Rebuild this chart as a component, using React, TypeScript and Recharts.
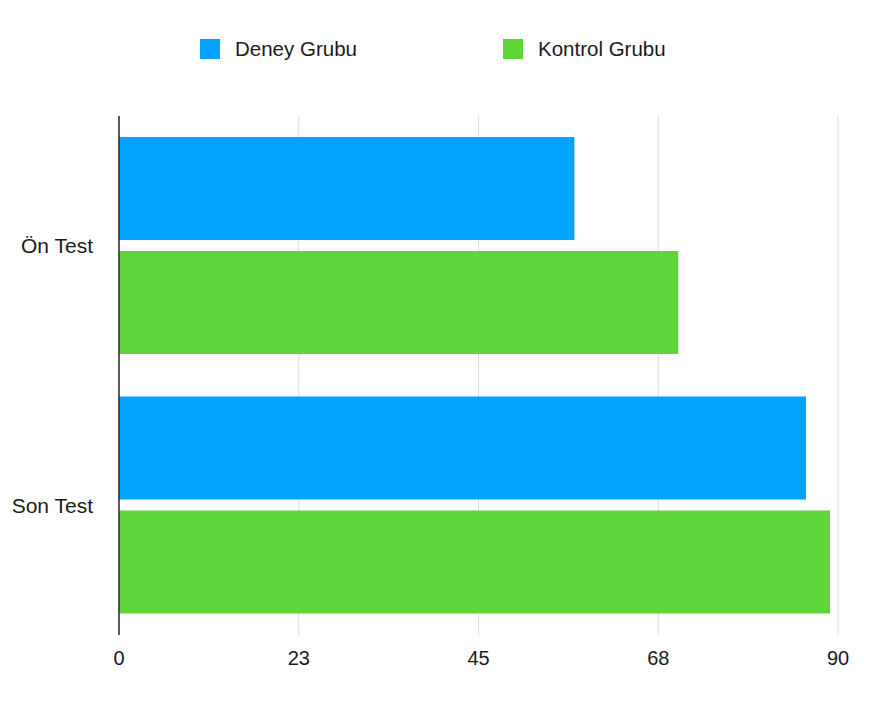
import React from "react";
import { BarChart, Bar, XAxis, YAxis, CartesianGrid, Legend } from "recharts";

const categories = ["Ön Test", "Son Test"];
const deneyValues = [57, 86];
const kontrolValues = [70, 89];
const xTicks = [0, 22.5, 45, 67.5, 90];
const xTickLabels = ["0", "23", "45", "68", "90"];
const seriesNames = ["Deney Grubu", "Kontrol Grubu"];
const seriesColors = ["#02A2FD", "#5ED63B"];

const data = categories.map((name, i) => ({
  name,
  deney: deneyValues[i],
  kontrol: kontrolValues[i],
}));

const FONT = "'Liberation Sans', Arial, Helvetica, sans-serif";

const legendLefts = [200, 503];

const CustomLegend = () => (
  <div style={{ position: "relative", width: 881, height: 60 }}>
    {seriesNames.map((n, i) => (
      <div
        key={n}
        style={{
          position: "absolute",
          left: legendLefts[i],
          top: 39,
          display: "flex",
          alignItems: "center",
          height: 20,
          fontFamily: FONT,
          fontSize: 20.5,
          color: "#1a1a1a",
          whiteSpace: "nowrap",
        }}
      >
        <span
          style={{
            display: "inline-block",
            width: 20,
            height: 20,
            background: seriesColors[i],
            marginRight: 15,
          }}
        />
        <span style={{ lineHeight: "20px" }}>{n}</span>
      </div>
    ))}
  </div>
);

export default function App() {
  return (
    <div style={{ position: "absolute", left: 0, top: 0, width: 881, height: 707, background: "#fff" }}>
      <BarChart
        width={881}
        height={707}
        data={data}
        layout="vertical"
        margin={{ top: 116, right: 43, bottom: 42, left: 0 }}
        barCategoryGap={21}
        barGap={11}
      >
        <CartesianGrid horizontal={false} stroke="#dcdcdc" strokeWidth={1} />
        <XAxis
          type="number"
          domain={[0, 90]}
          ticks={xTicks}
          tickFormatter={(v: number) => xTickLabels[xTicks.indexOf(v)] ?? String(v)}
          axisLine={false}
          tickLine={false}
          tickSize={7}
          tickMargin={9}
          height={30}
          tick={{ fill: "#1a1a1a", fontSize: 20, fontFamily: FONT }}
        />
        <YAxis
          type="category"
          dataKey="name"
          width={119}
          axisLine={{ stroke: "#2a2a2a", strokeWidth: 1.5 }}
          tickLine={false}
          tickSize={18}
          tickMargin={8}
          tick={{ fill: "#1a1a1a", fontSize: 21, fontFamily: FONT }}
        />
        <Legend
          verticalAlign="middle"
          align="center"
          content={() => <CustomLegend />}
          wrapperStyle={{ top: 0, left: 0, width: 881, height: 60 }}
        />
        <Bar dataKey="deney" name={seriesNames[0]} fill={seriesColors[0]} isAnimationActive={false} />
        <Bar dataKey="kontrol" name={seriesNames[1]} fill={seriesColors[1]} isAnimationActive={false} />
      </BarChart>
    </div>
  );
}
